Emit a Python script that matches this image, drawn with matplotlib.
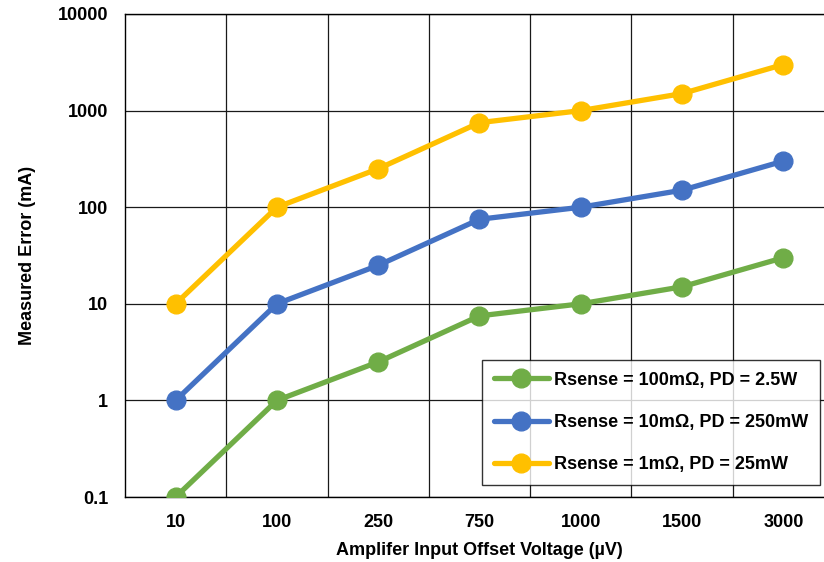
import matplotlib
matplotlib.use("Agg")
import matplotlib.pyplot as plt
from matplotlib.ticker import FixedLocator, NullLocator, FixedFormatter

categories = ["10", "100", "250", "750", "1000", "1500", "3000"]
green = [0.1, 1, 2.5, 7.5, 10, 15, 30]
blue = [1, 10, 25, 75, 100, 150, 300]
yellow = [10, 100, 250, 750, 1000, 1500, 3000]
labels = ["Rsense = 100mΩ, PD = 2.5W", "Rsense = 10mΩ, PD = 250mW", "Rsense = 1mΩ, PD = 25mW"]
yticks = [0.1, 1, 10, 100, 1000, 10000]
ytick_labels = ["0.1", "1", "10", "100", "1000", "10000"]

plt.rcParams['font.family'] = ['Liberation Sans', 'DejaVu Sans']
plt.rcParams['font.weight'] = 'bold'

fig = plt.figure(figsize=(8.24, 5.62), dpi=100)
ax = fig.add_axes([125/824, 1-497/562, 709/824, (497-14)/562])

x = list(range(len(categories)))
colors = ["#70AD47", "#4472C4", "#FFC000"]
for series, c, lab in zip([green, blue, yellow], colors, labels):
    ax.plot(x, series, color=c, lw=3.8, marker='o', ms=13.5, label=lab,
            solid_capstyle='round', zorder=3)

ax.set_yscale('log')
ax.set_ylim(0.1, 10000)
ax.set_xlim(-0.5, len(categories) - 0.5)
ax.yaxis.set_major_locator(FixedLocator(yticks))
ax.yaxis.set_major_formatter(FixedFormatter(ytick_labels))
ax.yaxis.set_minor_locator(NullLocator())
ax.set_xticks(x)
ax.set_xticklabels(categories)
ax.set_xticks([i + 0.5 for i in x[:-1]], minor=True)

ax.grid(True, which='major', axis='y', color='#1a1a1a', lw=0.9)
ax.grid(True, which='minor', axis='x', color='#1a1a1a', lw=0.9)
ax.set_axisbelow(True)
ax.tick_params(which='both', length=0)
ax.tick_params(axis='y', labelsize=13, pad=12)
ax.tick_params(axis='x', labelsize=13, pad=12)
for lbl in ax.get_xticklabels() + ax.get_yticklabels():
    lbl.set_fontweight('bold')
for s in ['left', 'bottom', 'top', 'right']:
    ax.spines[s].set_color('#000000')
    ax.spines[s].set_linewidth(1.0)

ax.set_xlabel("Amplifer Input Offset Voltage (µV)", fontsize=13, fontweight='bold', labelpad=8)
ax.set_ylabel("Measured Error (mA)", fontsize=13, fontweight='bold', labelpad=16)

leg = ax.legend(loc='lower left', bbox_to_anchor=((482-125)/709, (497-485)/483),
                borderaxespad=0, frameon=True, fancybox=False, edgecolor='#000000',
                handlelength=3.05, handletextpad=0.3, labelspacing=1.4,
                borderpad=0.65, prop={'weight': 'bold', 'size': 13})
leg.get_frame().set_linewidth(1.0)

fig.savefig("out.png", dpi=100)
